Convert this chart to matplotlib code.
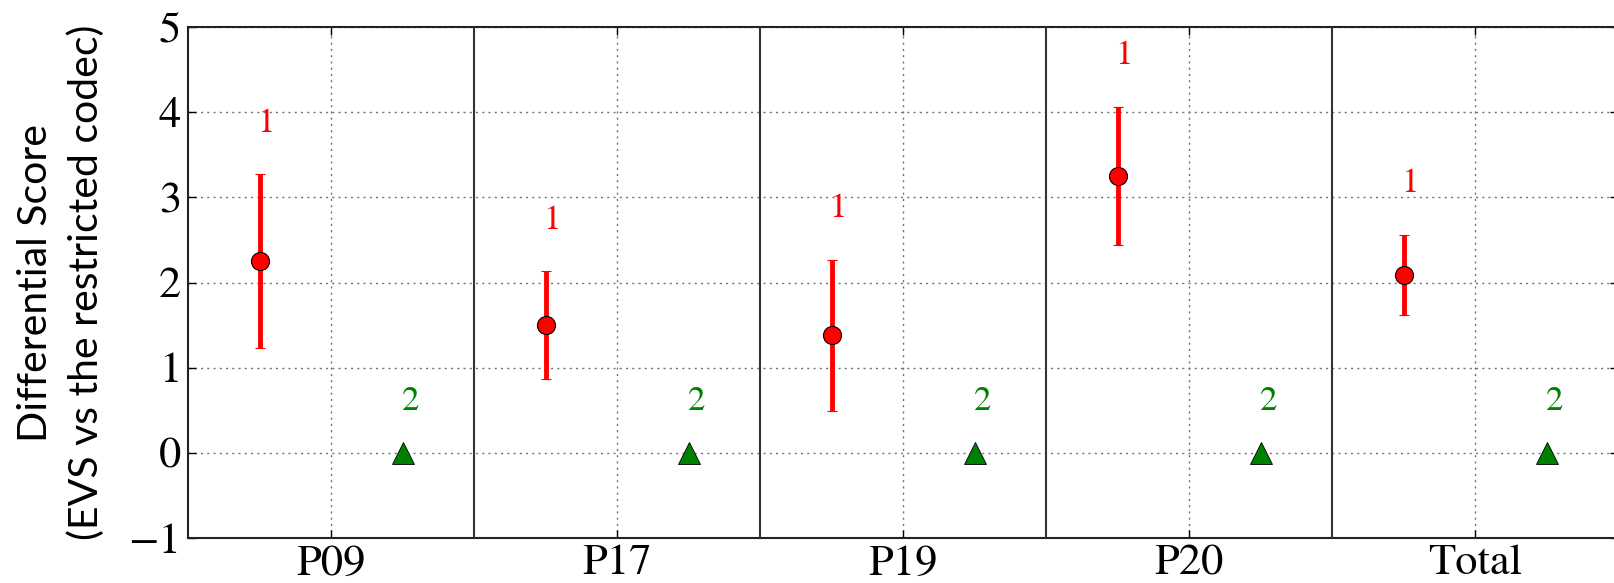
import matplotlib
matplotlib.use("Agg")
import matplotlib.pyplot as plt
import numpy as np

# per-subject differential scores (mean, half-width of CI) for the two conditions
groups = ["P09", "P17", "P19", "P20", "Total"]
evs_mean = [2.25, 1.50, 1.38, 3.25, 2.09]
evs_err = [1.02, 0.63, 0.89, 0.81, 0.47]
ref_mean = [0.0, 0.0, 0.0, 0.0, 0.0]
ref_err = [0.0, 0.0, 0.0, 0.0, 0.0]
rank_evs = "1"
rank_ref = "2"

plt.rcParams["font.family"] = ["STIXGeneral", "Liberation Serif", "DejaVu Serif"]
plt.rcParams["mathtext.fontset"] = "stix"

x = np.arange(len(groups))
off = 0.25
green = (0.0, 0.5, 0.0)

fig = plt.figure(figsize=(16.14, 5.83), dpi=100)
ax = fig.add_axes([188 / 1614, 45 / 583, 1430 / 1614, 511 / 583])

ax.errorbar(x - off, evs_mean, yerr=evs_err, fmt="o", color="red",
            mfc="red", mec="black", mew=0.8, ms=13,
            elinewidth=3.5, capsize=3.8, capthick=1.5, zorder=4)
ax.errorbar(x + off, ref_mean, yerr=ref_err, fmt="^", color=green,
            mfc=green, mec="black", mew=0.6, ms=16,
            elinewidth=3.5, capsize=0, zorder=4)

for i in range(len(groups)):
    ax.text(x[i] - off + 0.022, evs_mean[i] + evs_err[i] + 0.5, rank_evs,
            color="red", fontsize=25, ha="center", va="baseline")
    ax.text(x[i] + off + 0.028, ref_mean[i] + ref_err[i] + 0.5, rank_ref,
            color=green, fontsize=25, ha="center", va="baseline")

# panel separators
for s in x[:-1] + 0.5:
    ax.axvline(s, color="#333333", lw=1.5, zorder=3)

ax.set_xlim(-0.5, len(groups) - 0.5)
ax.set_ylim(-1, 5)
ax.set_xticks(x)
ax.set_xticklabels(groups)
ax.set_yticks(range(-1, 6))
ax.set_yticklabels(["\u22121" if v < 0 else str(v) for v in range(-1, 6)])
ax.tick_params(labelsize=32, direction="in", length=6, width=1,
               top=True, right=True, pad=5)
ax.grid(True, color="0.45", linestyle=(0, (1.5, 3)), lw=1)
for sp in ax.spines.values():
    sp.set_linewidth(1.5)
    sp.set_color("#222222")

ax.set_ylabel("Differential Score\n(EVS vs the restricted codec)",
              family=["Lato", "DejaVu Sans"], fontsize=29.5, linespacing=1.45)
ax.yaxis.set_label_coords(-0.058, 0.5)

fig.savefig("out.png", dpi=100)
